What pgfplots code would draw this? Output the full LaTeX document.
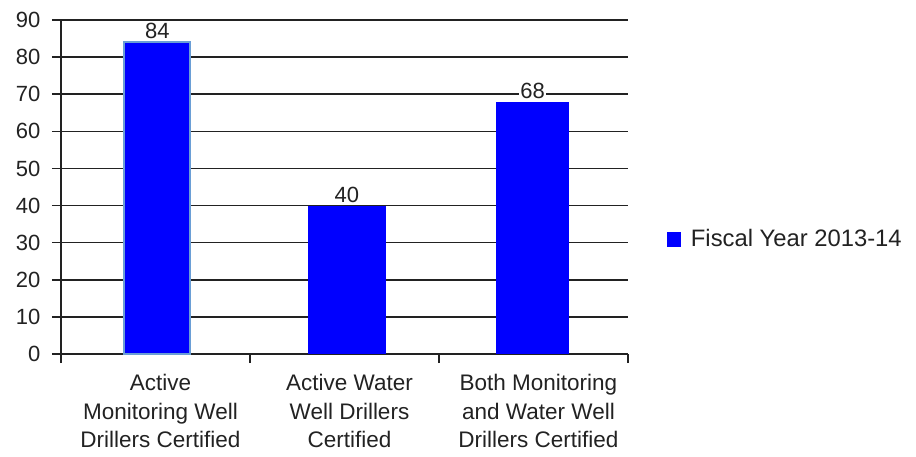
\documentclass[border=0pt]{standalone}
\usepackage{pgfplots}
\pgfplotsset{compat=1.18}
\usepackage{fontspec}
\setmainfont{Liberation Sans}
\definecolor{txt}{HTML}{222222}
\definecolor{barblue}{HTML}{0000FF}
\definecolor{edgeblue}{HTML}{6A9ED6}
\begin{document}
\begin{tikzpicture}[x=1pt,y=1pt]
\useasboundingbox (0,0) rectangle (916,456);
\begin{axis}[
  at={(61pt,102pt)}, anchor=south west,
  scale only axis, width=567pt, height=334pt,
  xmin=-0.5, xmax=2.5, ymin=0, ymax=90,
  axis x line*=bottom, axis y line*=left,
  axis line style={line width=1.5pt, color=txt},
  xtick={0,1,2},
  xticklabels={{Active\\Monitoring Well\\Drillers Certified},{Active Water\\Well Drillers\\Certified},{Both Monitoring\\and Water Well\\Drillers Certified}},
  xticklabel style={align=center, font=\fontsize{22.5}{28.3}\selectfont, text=txt, yshift=-8pt, xshift=5pt},
  minor xtick={-0.5,0.5,1.5,2.5},
  major x tick style={draw=none},
  minor x tick style={line width=1.5pt, color=txt},
  minor tick length=9pt,
  ytick={0,10,...,90},
  major tick length=9pt,
  tick align=outside,
  y tick style={line width=1.5pt, color=txt},
  ymajorgrids,
  grid style={line width=1.5pt, color=txt},
  yticklabel style={font=\fontsize{22}{26}\selectfont, text=txt, xshift=-8pt},
  /pgf/number format/assume math mode=true,
  nodes near coords,
  every node near coord/.append style={font=\fontsize{22}{26}\selectfont, text=txt, fill=white, inner sep=1pt, yshift=1.5pt},
  legend style={at={(1.063,0.344)}, anchor=west, draw=none, fill=none, font=\fontsize{23.8}{26}\selectfont, text=txt},
  legend image code/.code={\fill[barblue] (0pt,-7.5pt) rectangle (14pt,7.5pt); \path (22pt,0pt);},
]
\addplot[ybar, bar width=66pt, fill=barblue, draw=edgeblue, line width=2pt, forget plot] coordinates {(0.01,84)};
\addplot[ybar, bar width=78pt, fill=barblue, draw=none, forget plot] coordinates {(1.013,40)};
\addplot[ybar, bar width=73pt, fill=barblue, draw=none] coordinates {(1.995,68)};
\addlegendentry{Fiscal Year 2013-14}
\end{axis}
\end{tikzpicture}
\end{document}
